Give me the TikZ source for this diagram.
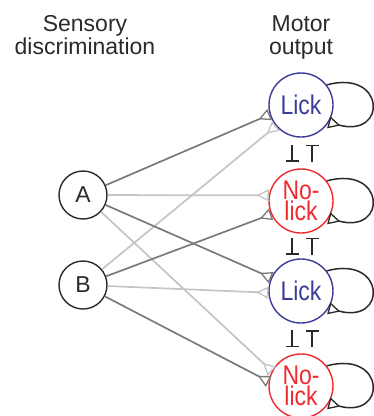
\documentclass[tikz,border=0pt]{standalone}
\usepackage{fontspec}
\setmainfont{Liberation Sans}
\newfontfamily\condfont[FakeStretch=0.85]{Liberation Sans}
\usetikzlibrary{arrows.meta,calc}
\definecolor{lickblue}{HTML}{3B3C98}
\definecolor{nored}{HTML}{EE2A2E}
\definecolor{darkln}{HTML}{7A7A7A}
\definecolor{lightln}{HTML}{C4C4C4}
\definecolor{ink}{HTML}{2A2A2A}
\begin{document}
\begin{tikzpicture}[x=1pt,y=-1pt,
  hdr/.style={align=center, anchor=north, inner sep=0pt, text=ink,
    font=\fontsize{23}{23}\selectfont},
  sens/.style={circle, draw=ink, line width=1.4pt, minimum size=48pt,
    inner sep=0pt, text=ink, font=\fontsize{23}{23}\selectfont},
  motor/.style={circle, line width=1.4pt, minimum size=64pt, inner sep=0pt,
    align=center, font=\condfont\fontsize{27}{20.5}\selectfont},
  lick/.style={motor, draw=lickblue, text=lickblue},
  nolick/.style={motor, draw=nored, text=nored},
  syn/.style={line width=1.7pt,
    -{Triangle[open, reversed, length=12pt, width=12pt, line width=1.3pt]}},
  dk/.style={syn, draw=darkln},
  lt/.style={syn, draw=lightln},
  selfloop/.style={line width=1.5pt, draw=ink,
    -{Triangle[open, reversed, length=12pt, width=12pt, line width=1.3pt]}},
  inh/.style={line width=1.5pt, draw=ink, -{Bar[width=13pt]}}
]
\useasboundingbox (0,0) rectangle (374,416);

\node[hdr] (h1) at (85,15.5) {Sensory\\discrimination};
\node[hdr] (h2) at (301,15.5) {Motor\\output};

\node[sens] (A) at (83,195) {A};
\node[sens] (B) at (83,285) {B};

\node[lick]   (L1) at (301,105) {Lick};
\node[nolick] (N1) at (301,201) {No-\\lick};
\node[lick]   (L2) at (301,291) {Lick};
\node[nolick] (N2) at (301,386) {No-\\lick};

% light connections
\draw[lt] (A) -- (N1.170);
\draw[lt] (A) -- (N2.153);
\draw[lt] (B) -- (L1.220);
\draw[lt] (B) -- (L2.183);
% dark connections
\draw[dk] (A) -- (L1.197);
\draw[dk] (A) -- (L2.156);
\draw[dk] (B) -- (N1.204);
\draw[dk] (B) -- (N2.172);

% self loops
\foreach \m in {L1,N1,L2,N2}{
  \draw[selfloop] (\m.38) .. controls +(59,-16) and +(59,16) .. (\m.-32);
}

% mutual inhibition
\coordinate (g1) at ($(L1.south)!0.5!(N1.north)$);
\coordinate (g2) at ($(N1.south)!0.5!(L2.north)$);
\coordinate (g3) at ($(L2.south)!0.5!(N2.north)$);
\foreach \g in {g1,g2,g3}{
  \draw[inh] ([shift={(-9,-8.5)}]\g) -- ([shift={(-9,8.5)}]\g);
  \draw[inh] ([shift={(11,8.5)}]\g) -- ([shift={(11,-8.5)}]\g);
}
\end{tikzpicture}
\end{document}
